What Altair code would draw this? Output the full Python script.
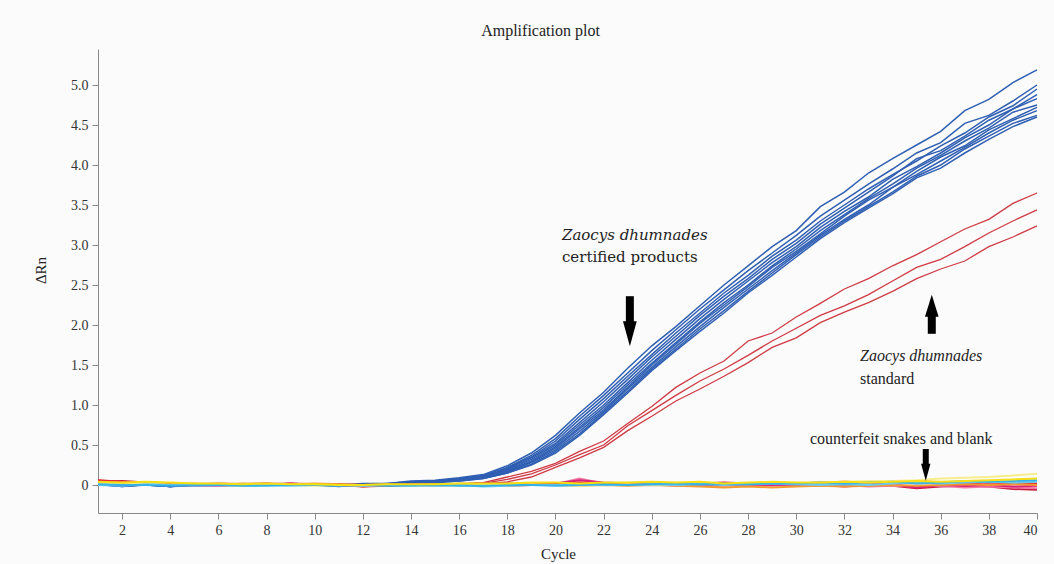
import altair as alt
import pandas as pd

# ---------------- data ----------------
cycles = list(range(1, 41))

# certified products (blue)
blue_1 = [0.03,0.00,0.02,-0.01,0.00,0.01,0.00,0.01,0.00,0.01,0.00,0.02,0.02,0.05,0.06,0.09,0.13,0.24,0.40,0.62,0.90,1.16,1.46,1.74,1.98,2.24,2.50,2.74,2.98,3.18,3.48,3.66,3.90,4.08,4.25,4.42,4.68,4.82,5.03,5.19]
blue_2 = [0.02,-0.01,0.01,-0.02,0.00,0.00,-0.01,0.01,0.00,0.00,-0.01,0.01,0.01,0.04,0.05,0.08,0.12,0.22,0.37,0.58,0.86,1.12,1.40,1.68,1.94,2.20,2.44,2.68,2.90,3.12,3.36,3.56,3.76,3.95,4.15,4.28,4.52,4.62,4.80,5.00]
blue_3 = [0.01,-0.02,0.00,-0.02,0.01,0.00,0.00,0.00,0.01,0.00,-0.02,0.00,0.01,0.03,0.05,0.07,0.11,0.21,0.35,0.55,0.82,1.08,1.36,1.63,1.90,2.15,2.40,2.62,2.86,3.06,3.30,3.50,3.70,3.88,4.05,4.24,4.40,4.60,4.74,4.95]
blue_4 = [0.02,0.00,0.01,-0.01,0.00,-0.01,0.00,0.01,0.00,0.01,0.00,0.00,0.02,0.04,0.04,0.07,0.11,0.20,0.34,0.52,0.78,1.04,1.32,1.60,1.86,2.12,2.36,2.58,2.82,3.02,3.26,3.46,3.66,3.86,4.08,4.18,4.36,4.56,4.70,4.88]
blue_5 = [0.00,-0.01,0.00,-0.02,-0.01,0.00,0.01,0.00,0.00,0.00,-0.01,0.01,0.01,0.03,0.04,0.07,0.10,0.19,0.32,0.50,0.75,1.00,1.28,1.56,1.82,2.08,2.32,2.55,2.78,2.98,3.22,3.42,3.60,3.82,3.98,4.15,4.34,4.50,4.70,4.83]
blue_6 = [0.01,0.00,0.01,-0.01,0.00,0.00,-0.01,0.00,0.01,0.00,0.00,0.00,0.01,0.03,0.04,0.06,0.10,0.18,0.30,0.48,0.72,0.97,1.25,1.52,1.78,2.04,2.28,2.50,2.74,2.95,3.18,3.38,3.58,3.76,3.96,4.12,4.30,4.46,4.66,4.75]
blue_7 = [0.02,-0.01,0.00,-0.01,0.00,0.01,0.00,0.00,0.00,0.01,-0.01,0.00,0.00,0.03,0.04,0.06,0.09,0.17,0.29,0.46,0.70,0.94,1.22,1.50,1.76,2.02,2.25,2.48,2.72,2.92,3.14,3.36,3.56,3.72,3.92,4.10,4.24,4.44,4.58,4.72]
blue_8 = [0.01,-0.02,0.01,-0.02,0.00,0.00,0.00,0.01,0.00,0.00,-0.01,0.01,0.00,0.02,0.04,0.06,0.09,0.16,0.28,0.44,0.67,0.92,1.20,1.47,1.73,1.98,2.22,2.45,2.68,2.90,3.12,3.32,3.50,3.72,3.88,4.05,4.22,4.40,4.56,4.68]
blue_9 = [0.00,-0.01,0.00,-0.01,0.01,0.00,0.00,0.00,0.01,0.00,0.00,0.00,0.01,0.02,0.03,0.05,0.08,0.15,0.26,0.42,0.64,0.90,1.17,1.45,1.70,1.95,2.18,2.42,2.65,2.88,3.10,3.30,3.48,3.66,3.86,4.00,4.20,4.36,4.52,4.62]
blue_10 = [0.01,0.00,0.00,-0.02,0.00,-0.01,0.00,0.01,0.00,0.00,-0.01,0.00,0.00,0.02,0.03,0.05,0.08,0.15,0.25,0.40,0.62,0.88,1.15,1.43,1.68,1.92,2.15,2.40,2.62,2.85,3.08,3.28,3.46,3.64,3.84,3.96,4.15,4.32,4.48,4.60]

# standard (red)
red_1 = [0.05,0.04,0.02,0.01,-0.01,0.00,0.01,0.02,0.00,0.01,0.00,-0.02,-0.01,0.00,0.01,0.01,0.03,0.10,0.17,0.27,0.42,0.55,0.77,0.98,1.22,1.40,1.55,1.80,1.90,2.10,2.27,2.45,2.58,2.74,2.88,3.04,3.20,3.32,3.52,3.65]
red_2 = [0.04,0.03,0.03,0.00,0.00,0.01,0.00,0.01,0.01,0.00,0.01,-0.01,0.00,0.01,0.00,0.02,0.02,0.07,0.14,0.25,0.38,0.50,0.74,0.93,1.12,1.30,1.45,1.62,1.80,1.96,2.12,2.24,2.38,2.55,2.72,2.82,2.98,3.15,3.30,3.44]
red_3 = [0.06,0.04,0.02,0.02,0.00,0.00,0.00,0.01,0.00,0.00,0.00,-0.02,0.00,0.00,0.01,0.00,0.01,0.04,0.10,0.22,0.34,0.47,0.68,0.86,1.05,1.20,1.36,1.53,1.72,1.84,2.03,2.16,2.28,2.42,2.58,2.70,2.80,2.98,3.10,3.24]

# counterfeit snakes and blank
noise_yellow = [0.04,0.03,0.04,0.03,0.02,0.02,0.01,0.02,0.01,0.01,0.00,0.00,0.01,0.01,0.01,0.02,0.02,0.02,0.03,0.03,0.02,0.03,0.03,0.04,0.03,0.04,0.02,0.03,0.04,0.03,0.03,0.04,0.03,0.04,0.05,0.04,0.05,0.06,0.07,0.08]
noise_lightyellow = [0.02,0.01,0.02,0.00,0.01,0.00,-0.01,0.00,0.00,-0.01,0.00,-0.01,0.00,-0.01,0.00,-0.01,0.00,0.00,0.01,0.00,-0.01,0.00,0.01,0.00,0.01,0.02,0.01,0.02,0.03,0.02,0.03,0.04,0.05,0.05,0.06,0.08,0.09,0.10,0.12,0.14]
noise_cyan = [0.01,0.00,0.00,-0.01,0.00,0.00,-0.01,-0.01,0.00,0.00,-0.01,0.00,-0.01,-0.01,0.00,-0.01,-0.01,0.00,0.00,-0.01,0.00,0.01,0.00,0.01,0.02,0.01,0.02,0.01,0.02,0.02,0.03,0.02,0.03,0.04,0.02,0.03,0.05,0.04,0.05,0.06]
noise_cyan2 = [0.00,-0.01,0.01,0.00,-0.01,0.00,0.01,0.00,-0.01,0.00,0.00,-0.01,0.00,0.00,-0.01,0.00,-0.02,-0.01,0.00,0.00,0.01,0.00,0.00,0.01,0.00,0.01,0.00,0.01,0.02,0.01,0.00,0.01,0.00,0.02,0.03,0.02,0.03,0.04,0.03,0.04]
noise_red = [0.06,0.04,0.03,0.02,0.01,0.02,0.01,0.02,0.01,0.00,0.00,-0.02,-0.01,0.00,0.01,0.00,0.01,0.00,0.01,0.02,0.03,0.02,0.01,0.03,0.01,0.02,0.03,0.02,0.03,0.02,0.03,0.04,0.03,0.02,0.05,0.03,0.02,0.03,0.02,0.02]
noise_magenta = [0.03,0.02,0.01,0.00,-0.01,0.00,0.01,0.00,0.02,0.01,0.00,0.00,-0.01,0.01,0.00,0.01,0.02,0.01,0.00,0.02,0.06,0.03,0.02,0.00,0.01,-0.01,0.00,0.01,0.00,0.01,0.00,-0.02,0.00,0.01,-0.03,0.00,-0.01,0.00,-0.02,-0.01]
noise_pink = [0.05,0.03,0.02,0.00,0.00,-0.01,0.00,0.01,0.00,0.01,0.00,-0.01,0.00,0.00,-0.01,0.00,0.00,-0.01,0.00,0.01,0.08,0.02,0.00,0.01,-0.01,0.00,-0.01,0.00,-0.01,0.00,-0.01,0.00,-0.02,-0.01,-0.02,-0.01,-0.03,-0.02,-0.03,-0.04]
noise_crimson = [0.04,0.05,0.03,0.02,0.00,0.01,0.00,0.01,0.02,0.00,0.01,0.00,0.00,0.01,0.00,0.00,0.01,0.02,0.01,0.00,0.02,0.01,0.00,0.02,0.00,-0.01,0.00,0.01,0.00,0.01,0.00,-0.01,0.00,-0.01,-0.04,-0.02,-0.01,-0.02,-0.05,-0.06]
noise_orange = [0.02,0.03,0.02,0.01,0.02,0.01,0.02,0.01,0.01,0.02,0.01,0.00,0.01,0.00,0.01,0.00,0.00,-0.01,0.00,0.00,-0.01,0.00,-0.01,0.00,-0.01,-0.02,-0.03,-0.02,-0.03,-0.02,-0.01,-0.02,-0.01,0.00,-0.01,0.00,0.01,0.00,0.01,0.00]

blue_series = [("blue_1", blue_1), ("blue_2", blue_2), ("blue_3", blue_3), ("blue_4", blue_4),
               ("blue_5", blue_5), ("blue_6", blue_6), ("blue_7", blue_7), ("blue_8", blue_8),
               ("blue_9", blue_9), ("blue_10", blue_10)]
red_series = [("red_1", red_1), ("red_2", red_2), ("red_3", red_3)]
noise_series = [("noise_crimson", noise_crimson, "#c81a3e"), ("noise_pink", noise_pink, "#ef7aa4"),
                ("noise_magenta", noise_magenta, "#d9207a"), ("noise_red", noise_red, "#e8262e"),
                ("noise_orange", noise_orange, "#f29a2e"), ("noise_lightyellow", noise_lightyellow, "#f6ee8c"),
                ("noise_cyan2", noise_cyan2, "#6cc9ef"), ("noise_cyan", noise_cyan, "#35b3e6"),
                ("noise_yellow", noise_yellow, "#f4df14")]


def long_df(pairs):
    rows = []
    for name, vals in pairs:
        for c, v in zip(cycles, vals):
            rows.append({"series": name, "cycle": c, "value": v})
    return pd.DataFrame(rows)


blue_df = long_df(blue_series)
red_df = long_df(red_series)
noise_df = long_df([(n, v) for n, v, _ in noise_series])
noise_names = [n for n, _, _ in noise_series]
noise_colors = [c for _, _, c in noise_series]

# annotations (data coordinates: cycle, ΔRn)
label_text = ["Zaocys dhumnades", "certified products", "Zaocys dhumnades", "standard", "counterfeit snakes and blank"]
label_x = [20.27, 20.27, 32.65, 32.65, 30.57]
label_y = [3.12, 2.85, 1.61, 1.33, 0.575]
label_style = ["italic", "normal", "italic", "normal", "normal"]
label_font = ["DejaVu Serif", "DejaVu Serif", "Liberation Serif", "Liberation Serif", "Liberation Serif"]
label_size = [15, 15, 16, 16, 16]

shaft_x = [23.09, 35.63, 35.38]
shaft_top = [2.36, 2.12, 0.45]
shaft_bottom = [2.02, 1.89, 0.23]
shaft_w = [8, 8, 6]
head_x = [23.09, 35.63, 35.38]
head_y = [1.89, 2.24, 0.16]
head_dir = ["down", "up", "down"]
head_size = [25, 22, 17]

FONT = "Liberation Serif"

x_scale = alt.Scale(domain=[1, 40], nice=False, zero=False)
y_scale = alt.Scale(domain=[-0.35, 5.45], nice=False, zero=False)

x_axis = alt.Axis(values=list(range(2, 41, 2)), format="d", title="Cycle",
                  titleX=460, titleY=40, titleBaseline="middle", titleAlign="center")
y_axis = alt.Axis(values=[0, 0.5, 1, 1.5, 2, 2.5, 3, 3.5, 4, 4.5, 5], title="ΔRn",
                  labelExpr="datum.value == 0 ? '0' : format(datum.value, '.1f')",
                  titleX=-58, titleY=221, titleBaseline="middle", titleAlign="center", titleAngle=270)

X = alt.X("cycle:Q", scale=x_scale, axis=x_axis)
Y = alt.Y("value:Q", scale=y_scale, axis=y_axis)

blue_lines = alt.Chart(blue_df).mark_line(strokeWidth=1.5, color="#2f5fb3").encode(
    x=X, y=Y, detail="series:N")
red_lines = alt.Chart(red_df).mark_line(strokeWidth=1.3, color="#d03a44").encode(
    x=X, y=Y, detail="series:N")
noise_lines = alt.Chart(noise_df).mark_line(strokeWidth=2).encode(
    x=X, y=Y, detail="series:N",
    color=alt.Color("series:N", scale=alt.Scale(domain=noise_names, range=noise_colors), legend=None))

ldf = pd.DataFrame({"text": label_text, "x": label_x, "y": label_y, "style": label_style,
                    "font": label_font, "size": label_size})
label_layers = []
for i in range(len(label_text)):
    label_layers.append(
        alt.Chart(ldf.iloc[[i]]).mark_text(
            font=label_font[i], fontStyle=label_style[i], align="left", baseline="middle", color="#222"
        ).encode(x=alt.X("x:Q", scale=x_scale), y=alt.Y("y:Q", scale=y_scale), text="text:N",
                 size=alt.Size("size:Q", scale=None, legend=None))
    )

sdf = pd.DataFrame({"x": shaft_x, "y": shaft_top, "y2": shaft_bottom, "w": shaft_w})
shafts = alt.Chart(sdf).mark_rule(color="black").encode(
    x=alt.X("x:Q", scale=x_scale), y=alt.Y("y:Q", scale=y_scale), y2="y2:Q",
    strokeWidth=alt.StrokeWidth("w:Q", scale=None, legend=None),
)

hdf = pd.DataFrame({"x": head_x, "y": head_y, "dir": head_dir, "s": head_size})
down_path = "M-0.55,-1L0.55,-1L0,1Z"
up_path = "M-0.62,1L0.62,1L0,-1Z"
heads_down = alt.Chart(hdf[hdf["dir"] == "down"]).transform_calculate(area="datum.s*datum.s").mark_point(
    shape=down_path, filled=True, color="black", opacity=1, strokeWidth=0
).encode(x=alt.X("x:Q", scale=x_scale), y=alt.Y("y:Q", scale=y_scale),
         size=alt.Size("area:Q", scale=None, legend=None))
heads_up = alt.Chart(hdf[hdf["dir"] == "up"]).transform_calculate(area="datum.s*datum.s").mark_point(
    shape=up_path, filled=True, color="black", opacity=1, strokeWidth=0
).encode(x=alt.X("x:Q", scale=x_scale), y=alt.Y("y:Q", scale=y_scale),
         size=alt.Size("area:Q", scale=None, legend=None))

chart = alt.layer(blue_lines, red_lines, noise_lines, shafts, heads_down, heads_up, *label_layers).properties(
    width=939, height=464,
    title=alt.TitleParams("Amplification plot", font=FONT, fontSize=16, fontWeight="normal",
                          color="#222", anchor="middle", dx=-27, offset=10),
    background="#fbfbfb",
    autosize=alt.AutoSizeParams(type="none"),
    padding={"left": 98, "top": 49, "right": 17, "bottom": 51},
).configure_view(stroke=None).configure_axis(
    grid=False, domainColor="#888", tickColor="#888", tickSize=6, labelColor="#333",
    labelFont=FONT, labelFontSize=14, titleFont=FONT, titleFontSize=15, titleFontWeight="normal",
    titleColor="#222", labelPadding=4,
)

chart.save("out.html", embed_options={"renderer": "svg", "actions": False})
